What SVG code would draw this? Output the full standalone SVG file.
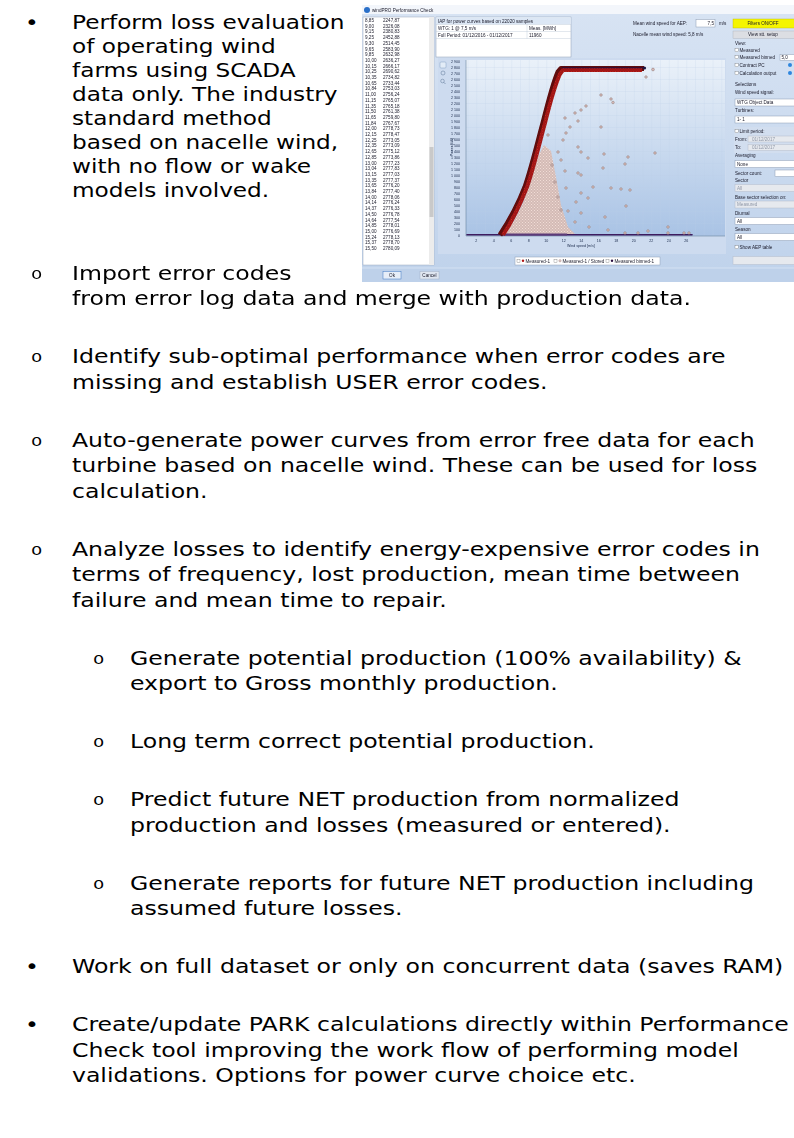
<svg xmlns="http://www.w3.org/2000/svg" width="794" height="1138" viewBox="0 0 794 1138">
  <style>
    .t { font-family: "DejaVu Sans", Verdana, sans-serif; font-size: 20px; fill: #000; }
    .o { font-family: "Liberation Mono", "Courier New", monospace; font-size: 16px; fill: #000; }
    .s { font-family: "Liberation Sans", Arial, sans-serif; font-size: 4.6px; fill: #1a1a2a; }
    .sg { font-family: "Liberation Sans", Arial, sans-serif; font-size: 4.6px; fill: #9098a8; }
    .ax { font-family: "Liberation Sans", Arial, sans-serif; font-size: 3.6px; fill: #203050; }
    .box { fill: #ffffff; stroke: #8c9cb4; stroke-width: 0.5; }
    .dis { fill: #e6e9ee; stroke: #b4bccb; stroke-width: 0.5; }
    .sc { fill: #d9bcb9; stroke: #85706d; stroke-width: 0.45; }
    .cb { fill: #ffffff; stroke: #555555; stroke-width: 0.3; }
  </style>
  <defs>
    <linearGradient id="winBg" x1="0" y1="0" x2="0" y2="1">
      <stop offset="0" stop-color="#d7e3f3"/>
      <stop offset="1" stop-color="#bfd2eb"/>
    </linearGradient>
    <linearGradient id="plotBg" x1="0" y1="0" x2="0" y2="1">
      <stop offset="0" stop-color="#eaf1f9"/>
      <stop offset="1" stop-color="#a9c3e5"/>
    </linearGradient>
    <pattern id="grid" x="96.8" y="2" width="8.75" height="12" patternUnits="userSpaceOnUse">
      <path d="M0 0V12M0 0H8.75" fill="none" stroke="#b8cae3" stroke-width="0.4"/>
    </pattern>
    <pattern id="pinkDots" width="3" height="3" patternUnits="userSpaceOnUse">
      <rect width="3" height="3" fill="#e6cdc8"/>
      <circle cx="1.5" cy="1.5" r="1.1" fill="#f2dcd6" stroke="#a08580" stroke-width="0.35"/>
    </pattern>
    <pattern id="redDots" width="2.6" height="2.6" patternUnits="userSpaceOnUse">
      <rect width="2.6" height="2.6" fill="#b01818"/>
      <circle cx="1.3" cy="1.3" r="0.9" fill="#d42a22" stroke="#5a0606" stroke-width="0.35"/>
    </pattern>
    <filter id="soft" x="-2%" y="-2%" width="104%" height="104%">
      <feGaussianBlur stdDeviation="0.35"/>
    </filter>
  </defs>

  <rect width="794" height="1138" fill="#ffffff"/>

  <!-- body text is set 20px and widened to the page's text measure -->
  <!-- first bullet, wrapped beside the screenshot -->
  <g id="bullet-loss-evaluation" transform="scale(1.16 1)">
    <text class="t" x="21.6" y="29">•</text>
    <text class="t" x="62.1" y="29">Perform loss evaluation</text>
    <text class="t" x="62.1" y="53">of operating wind</text>
    <text class="t" x="62.1" y="77">farms using SCADA</text>
    <text class="t" x="62.1" y="101">data only. The industry</text>
    <text class="t" x="62.1" y="125">standard method</text>
    <text class="t" x="62.1" y="149">based on nacelle wind,</text>
    <text class="t" x="62.1" y="173">with no flow or wake</text>
    <text class="t" x="62.1" y="197">models involved.</text>
  </g>

  <!-- performance check dialog screenshot -->
  <g id="screenshot" transform="translate(362 5)" filter="url(#soft)">
    <!-- title bar and body -->
    <rect x="0" y="0" width="434" height="9" fill="#f3f6fb"/>
    <circle cx="5" cy="5" r="3" fill="#2a6fc9"/>
    <text class="s" x="10" y="6.8" fill="#333">windPRO Performance Check</text>
    <rect x="0" y="9" width="434" height="268" fill="url(#winBg)"/>

    <!-- result list -->
    <g id="result-list">
      <rect x="1" y="12" width="71" height="248" fill="#ffffff" stroke="#9aa8bc" stroke-width="0.5"/>
      <rect x="67" y="12" width="5" height="248" fill="#ececec"/>
      <rect x="67.5" y="142" width="4" height="70" fill="#c9c9c9"/>
      <g class="s">
        <text x="3" y="17">8,85</text><text x="21" y="17">2247,87</text>
        <text x="3" y="22.7">9,00</text><text x="21" y="22.7">2326,08</text>
        <text x="3" y="28.4">9,15</text><text x="21" y="28.4">2380,83</text>
        <text x="3" y="34.1">9,25</text><text x="21" y="34.1">2452,88</text>
        <text x="3" y="39.8">9,30</text><text x="21" y="39.8">2514,45</text>
        <text x="3" y="45.5">9,65</text><text x="21" y="45.5">2583,90</text>
        <text x="3" y="51.2">9,85</text><text x="21" y="51.2">2632,98</text>
        <text x="3" y="56.9">10,00</text><text x="21" y="56.9">2636,27</text>
        <text x="3" y="62.6">10,15</text><text x="21" y="62.6">2666,17</text>
        <text x="3" y="68.3">10,25</text><text x="21" y="68.3">2690,62</text>
        <text x="3" y="74">10,35</text><text x="21" y="74">2734,82</text>
        <text x="3" y="79.7">10,65</text><text x="21" y="79.7">2733,44</text>
        <text x="3" y="85.4">10,84</text><text x="21" y="85.4">2753,03</text>
        <text x="3" y="91.1">11,00</text><text x="21" y="91.1">2756,24</text>
        <text x="3" y="96.8">11,15</text><text x="21" y="96.8">2765,07</text>
        <text x="3" y="102.5">11,35</text><text x="21" y="102.5">2765,18</text>
        <text x="3" y="108.2">11,50</text><text x="21" y="108.2">2761,38</text>
        <text x="3" y="113.9">11,65</text><text x="21" y="113.9">2759,80</text>
        <text x="3" y="119.6">11,84</text><text x="21" y="119.6">2767,67</text>
        <text x="3" y="125.3">12,00</text><text x="21" y="125.3">2778,73</text>
        <text x="3" y="131">12,15</text><text x="21" y="131">2778,47</text>
        <text x="3" y="136.7">12,25</text><text x="21" y="136.7">2773,05</text>
        <text x="3" y="142.4">12,35</text><text x="21" y="142.4">2773,09</text>
        <text x="3" y="148.1">12,65</text><text x="21" y="148.1">2775,12</text>
        <text x="3" y="153.8">12,85</text><text x="21" y="153.8">2773,86</text>
        <text x="3" y="159.5">13,00</text><text x="21" y="159.5">2777,23</text>
        <text x="3" y="165.2">13,04</text><text x="21" y="165.2">2777,83</text>
        <text x="3" y="170.9">13,15</text><text x="21" y="170.9">2777,03</text>
        <text x="3" y="176.6">13,35</text><text x="21" y="176.6">2777,37</text>
        <text x="3" y="182.3">13,65</text><text x="21" y="182.3">2776,20</text>
        <text x="3" y="188">13,84</text><text x="21" y="188">2777,40</text>
        <text x="3" y="193.7">14,00</text><text x="21" y="193.7">2778,06</text>
        <text x="3" y="199.4">14,14</text><text x="21" y="199.4">2776,24</text>
        <text x="3" y="205.1">14,37</text><text x="21" y="205.1">2776,33</text>
        <text x="3" y="210.8">14,50</text><text x="21" y="210.8">2776,78</text>
        <text x="3" y="216.5">14,64</text><text x="21" y="216.5">2777,54</text>
        <text x="3" y="222.2">14,85</text><text x="21" y="222.2">2778,01</text>
        <text x="3" y="227.9">15,00</text><text x="21" y="227.9">2776,69</text>
        <text x="3" y="233.6">15,24</text><text x="21" y="233.6">2778,13</text>
        <text x="3" y="239.3">15,37</text><text x="21" y="239.3">2778,70</text>
        <text x="3" y="245">15,50</text><text x="21" y="245">2780,09</text>
      </g>
    </g>

    <!-- AEP summary table -->
    <g id="aep-table">
      <rect class="box" x="74" y="12" width="135" height="40"/>
      <rect x="74.3" y="12.3" width="134.4" height="7" fill="#dce7f5"/>
      <text class="s" x="76" y="17.6">IAP for power curves based on 22020 samples</text>
      <path d="M74 19.5H209M74 26.5H209M74 33.5H209M165 19.5V33.5" stroke="#b8c4d4" stroke-width="0.4"/>
      <text class="s" x="76" y="24.6">WTG: 1 @ 7,5 m/s</text>
      <text class="s" x="167" y="24.6">Meas. [MWh]</text>
      <text class="s" x="76" y="31.6">Full Period: 01/12/2016 - 01/12/2017</text>
      <text class="s" x="167" y="31.6">11960</text>
    </g>

    <!-- wind speed settings -->
    <g id="wind-settings">
      <text class="s" x="271" y="20">Mean wind speed for AEP:</text>
      <rect class="box" x="334" y="14.5" width="19" height="7.5"/>
      <text class="s" x="352" y="20" text-anchor="end">7,5</text>
      <text class="s" x="357" y="20">m/s</text>
      <text class="s" x="271" y="31">Nacelle mean wind speed: 5,8 m/s</text>
    </g>

    <!-- right control panel -->
    <g id="control-panel">
      <rect x="371" y="14" width="63" height="9" fill="#f5f500" stroke="#b8b800" stroke-width="0.4"/>
      <text class="s" x="401" y="20.2" text-anchor="middle">Filters ON/OFF</text>
      <rect x="371" y="26" width="63" height="7.5" fill="#dcdee3" stroke="#a9afba" stroke-width="0.4"/>
      <text class="s" x="401" y="31.4" text-anchor="middle">View stt. setup</text>
      <text class="s" x="373" y="40">View:</text>
      <rect class="cb" x="373" y="43.5" width="3.2" height="3.2"/>
      <text class="s" x="377.5" y="46.6">Measured</text>
      <rect class="cb" x="373" y="50.5" width="3.2" height="3.2"/>
      <text class="s" x="377.5" y="53.6">Measured binned</text>
      <rect class="box" x="418" y="49.5" width="16" height="6"/>
      <text class="s" x="419.5" y="54">5,0</text>
      <rect class="cb" x="373" y="58.5" width="3.2" height="3.2"/>
      <text class="s" x="377.5" y="61.6">Contract PC</text>
      <circle cx="428" cy="60" r="2" fill="#2e86de"/>
      <rect class="cb" x="373" y="66.5" width="3.2" height="3.2"/>
      <text class="s" x="377.5" y="69.6">Calculation output</text>
      <circle cx="428" cy="68" r="2" fill="#2e86de"/>
      <text class="s" x="373" y="81">Selections</text>
      <text class="s" x="373" y="89">Wind speed signal:</text>
      <rect class="box" x="373" y="94" width="61" height="7"/>
      <text class="s" x="375" y="99">WTG Object Data</text>
      <text class="s" x="373" y="107">Turbines:</text>
      <rect class="box" x="373" y="111" width="61" height="7"/>
      <text class="s" x="375" y="116">1- 1</text>
      <rect x="372" y="122" width="62" height="26" fill="#d2deef"/>
      <rect class="cb" x="373" y="124.5" width="3.2" height="3.2"/>
      <text class="s" x="377.5" y="127.6">Limit period:</text>
      <text class="s" x="373" y="135.5">From:</text>
      <rect class="dis" x="386" y="131" width="48" height="6"/>
      <text class="sg" x="390" y="135.5">01/12/2017</text>
      <text class="s" x="373" y="144">To:</text>
      <rect class="dis" x="386" y="139.5" width="48" height="6"/>
      <text class="sg" x="390" y="144">01/12/2017</text>
      <text class="s" x="373" y="152">Averaging</text>
      <rect class="box" x="373" y="155.5" width="61" height="7"/>
      <text class="s" x="375" y="160.5">None</text>
      <text class="s" x="373" y="169.5">Sector count:</text>
      <rect class="box" x="413" y="165" width="21" height="6.5"/>
      <text class="s" x="373" y="176.5">Sector</text>
      <rect class="dis" x="373" y="179.5" width="61" height="7"/>
      <text class="sg" x="375" y="184.5">All</text>
      <text class="s" x="373" y="193.5">Base sector selection on:</text>
      <rect class="dis" x="373" y="196" width="61" height="7"/>
      <text class="sg" x="375" y="201">Measured</text>
      <text class="s" x="373" y="209.5">Diurnal</text>
      <rect class="box" x="373" y="212.5" width="61" height="7"/>
      <text class="s" x="375" y="217.5">All</text>
      <text class="s" x="373" y="226">Season</text>
      <rect class="box" x="373" y="228.5" width="61" height="7"/>
      <text class="s" x="375" y="233.5">All</text>
      <rect class="cb" x="373" y="240.5" width="3.2" height="3.2"/>
      <text class="s" x="377.5" y="243.6">Show AEP table</text>
      <rect class="dis" x="371" y="251.5" width="63" height="8"/>
    </g>

    <!-- power curve chart -->
    <g id="chart">
      <rect x="76" y="53" width="288" height="196" fill="#cddbef"/>
      <rect x="104" y="55" width="259" height="176" fill="url(#plotBg)"/>
      <rect x="104" y="55" width="259" height="176" fill="url(#grid)"/>
      <line x1="104" y1="55" x2="104" y2="231" stroke="#56708f" stroke-width="0.5"/>
      <line x1="104" y1="231" x2="363" y2="231" stroke="#56708f" stroke-width="0.5"/>
      <!-- tool icons -->
      <rect x="78" y="57" width="6" height="6" rx="1" fill="#e2ecf7" stroke="#6f8fb5" stroke-width="0.4"/>
      <circle cx="81" cy="68" r="2" fill="none" stroke="#5d7696" stroke-width="0.5"/>
      <circle cx="80.5" cy="76" r="1.8" fill="none" stroke="#5d7696" stroke-width="0.5"/>
      <line x1="81.8" y1="77.3" x2="83.5" y2="79" stroke="#5d7696" stroke-width="0.6"/>
      <!-- y axis -->
      <g class="ax" text-anchor="end">
        <text x="98" y="57.5">2 900</text><text x="98" y="63.5">2 800</text><text x="98" y="69.5">2 700</text>
        <text x="98" y="75.5">2 600</text><text x="98" y="81.5">2 500</text><text x="98" y="87.5">2 400</text>
        <text x="98" y="93.5">2 300</text><text x="98" y="99.5">2 200</text><text x="98" y="105.5">2 100</text>
        <text x="98" y="111.5">2 000</text><text x="98" y="117.5">1 900</text><text x="98" y="123.5">1 800</text>
        <text x="98" y="129.5">1 700</text><text x="98" y="135.5">1 600</text><text x="98" y="141.5">1 500</text>
        <text x="98" y="147.5">1 400</text><text x="98" y="153.5">1 300</text><text x="98" y="159.5">1 200</text>
        <text x="98" y="165.5">1 100</text><text x="98" y="171.5">1 000</text><text x="98" y="177.5">900</text>
        <text x="98" y="183.5">800</text><text x="98" y="189.5">700</text><text x="98" y="195.5">600</text>
        <text x="98" y="201.5">500</text><text x="98" y="207.5">400</text><text x="98" y="213.5">300</text>
        <text x="98" y="219.5">200</text><text x="98" y="225.5">100</text><text x="98" y="231.5">0</text>
      </g>
      <text class="ax" transform="translate(91 142) rotate(-90)" text-anchor="middle">Power [kW]</text>
      <!-- x axis -->
      <g class="ax" text-anchor="middle">
        <text x="114.3" y="237">2</text><text x="131.8" y="237">4</text><text x="149.3" y="237">6</text>
        <text x="166.8" y="237">8</text><text x="184.3" y="237">10</text><text x="201.8" y="237">12</text>
        <text x="219.3" y="237">14</text><text x="236.8" y="237">16</text><text x="254.3" y="237">18</text>
        <text x="271.8" y="237">20</text><text x="289.3" y="237">22</text><text x="306.8" y="237">24</text>
        <text x="324.3" y="237">26</text>
      </g>
      <text class="ax" x="219" y="242" text-anchor="middle">Wind speed [m/s]</text>

      <!-- cloud of sub-optimal samples below the curve -->
      <path d="M142 230L152 216L161 198L169 176L176 152L182 140L189 146L194 172L199 200L206 222L214 230Z" fill="url(#pinkDots)"/>
      <!-- zero-power samples -->
      <line x1="105" y1="229.8" x2="330" y2="229.8" stroke="#3e1d5e" stroke-width="1.6" stroke-linecap="round"/>
      <line x1="140" y1="229.5" x2="205" y2="229.5" stroke="#5c3a78" stroke-width="2.2"/>
      <!-- measured power curve band -->
      <path d="M138 230C148 215 156 200 163 182C169 165 175 140 181 118C186 98 191 78 196 67L199 63.5H282" fill="none" stroke="#5e0707" stroke-width="5" stroke-linejoin="round"/>
      <path d="M141 230C151 215 158 200 165 182C171 165 177 140 183 118C188 98 193 80 198 69L201 65H280" fill="none" stroke="url(#redDots)" stroke-width="4" stroke-linejoin="round"/>
      <line x1="200" y1="62.8" x2="282" y2="62.8" stroke="#2a1040" stroke-width="1"/>
      <circle cx="282.5" cy="63" r="1.6" fill="#1e1440"/>
      <!-- scattered samples -->
      <g class="sc">
        <circle cx="291" cy="64.5" r="1.4"/><circle cx="284" cy="72" r="1.3"/><circle cx="239" cy="90" r="1.3"/>
        <circle cx="249" cy="94" r="1.3"/><circle cx="251" cy="97.5" r="1.3"/><circle cx="224" cy="101" r="1.3"/>
        <circle cx="219" cy="105" r="1.3"/><circle cx="213" cy="108" r="1.3"/><circle cx="203" cy="113" r="1.3"/>
        <circle cx="216" cy="116" r="1.3"/><circle cx="208" cy="122" r="1.3"/><circle cx="239" cy="122" r="1.3"/>
        <circle cx="204" cy="128" r="1.3"/><circle cx="201" cy="135" r="1.3"/><circle cx="216" cy="142" r="1.3"/>
        <circle cx="219" cy="147" r="1.3"/><circle cx="196" cy="147" r="1.3"/><circle cx="242" cy="149" r="1.3"/>
        <circle cx="293" cy="148" r="1.3"/><circle cx="199" cy="155" r="1.3"/><circle cx="226" cy="153" r="1.3"/>
        <circle cx="263" cy="159" r="1.3"/><circle cx="266" cy="152" r="1.3"/><circle cx="241" cy="163" r="1.3"/>
        <circle cx="216" cy="168" r="1.3"/><circle cx="203" cy="166" r="1.3"/><circle cx="219" cy="170" r="1.3"/>
        <circle cx="249" cy="183" r="1.3"/><circle cx="259" cy="184" r="1.3"/><circle cx="268" cy="185" r="1.3"/>
        <circle cx="204" cy="183" r="1.3"/><circle cx="231" cy="182" r="1.3"/><circle cx="219" cy="188" r="1.3"/>
        <circle cx="196" cy="192" r="1.3"/><circle cx="226" cy="193" r="1.3"/><circle cx="214" cy="197" r="1.3"/>
        <circle cx="264" cy="201" r="1.3"/><circle cx="199" cy="205" r="1.3"/><circle cx="206" cy="206" r="1.3"/>
        <circle cx="219" cy="208" r="1.3"/><circle cx="243" cy="212" r="1.3"/><circle cx="213" cy="217" r="1.3"/>
        <circle cx="306" cy="222" r="1.3"/><circle cx="286" cy="226" r="1.3"/><circle cx="246" cy="225" r="1.3"/>
        <circle cx="263" cy="228" r="1.3"/><circle cx="276" cy="228" r="1.3"/><circle cx="322" cy="228" r="1.3"/>
        <circle cx="327" cy="228" r="1.3"/><circle cx="306" cy="228" r="1.3"/><circle cx="227" cy="222" r="1.3"/>
        <circle cx="190" cy="160" r="1.3"/><circle cx="193" cy="177" r="1.3"/><circle cx="186" cy="130" r="1.3"/>
      </g>

      <!-- legend -->
      <rect class="box" x="153" y="252" width="145" height="8"/>
      <rect class="cb" x="155" y="254.3" width="3" height="3"/>
      <circle cx="161" cy="255.8" r="1.2" fill="#b01818"/>
      <text class="s" x="163.5" y="257.6">Measured-1</text>
      <rect class="cb" x="192" y="254.3" width="3" height="3"/>
      <circle cx="198" cy="255.8" r="1.2" fill="#e6cfcb" stroke="#7d6461" stroke-width="0.3"/>
      <text class="s" x="200.5" y="257.6">Measured-1 / Stored</text>
      <rect class="cb" x="244" y="254.3" width="3" height="3"/>
      <circle cx="250" cy="255.8" r="1.2" fill="#2a1040"/>
      <text class="s" x="252.5" y="257.6">Measured binned-1</text>
    </g>

    <!-- dialog buttons -->
    <g id="dialog-buttons">
      <rect x="0" y="263" width="434" height="14" fill="#bed1ea"/>
      <line x1="0" y1="263" x2="434" y2="263" stroke="#e3ecf8" stroke-width="0.6"/>
      <rect x="21" y="266.5" width="18" height="7.5" fill="#e7eef8" stroke="#3f78c4" stroke-width="0.5"/>
      <text class="s" x="30" y="271.8" text-anchor="middle">Ok</text>
      <rect x="58" y="266.5" width="19" height="7.5" fill="#dfe6f0" stroke="#9aa9bd" stroke-width="0.4"/>
      <text class="s" x="67.5" y="271.8" text-anchor="middle">Cancel</text>
    </g>
  </g>

  <!-- sub-items of the first bullet -->
  <g id="item-import" transform="scale(1.18 1)">
    <text class="o" x="26.3" y="279">o</text>
    <text class="t" x="61" y="280">Import error codes</text>
    <text class="t" x="61" y="305.5">from error log data and merge with production data.</text>
  </g>
  <g id="item-identify" transform="scale(1.18 1)">
    <text class="o" x="26.3" y="362.5">o</text>
    <text class="t" x="61" y="363.5">Identify sub-optimal performance when error codes are</text>
    <text class="t" x="61" y="389">missing and establish USER error codes.</text>
  </g>
  <g id="item-autogenerate" transform="scale(1.18 1)">
    <text class="o" x="26.3" y="446">o</text>
    <text class="t" x="61" y="447">Auto-generate power curves from error free data for each</text>
    <text class="t" x="61" y="472.5">turbine based on nacelle wind. These can be used for loss</text>
    <text class="t" x="61" y="498">calculation.</text>
  </g>
  <g id="item-analyze" transform="scale(1.18 1)">
    <text class="o" x="26.3" y="555">o</text>
    <text class="t" x="61" y="556">Analyze losses to identify energy-expensive error codes in</text>
    <text class="t" x="61" y="581.5">terms of frequency, lost production, mean time between</text>
    <text class="t" x="61" y="607">failure and mean time to repair.</text>
  </g>

  <!-- second level items -->
  <g id="item-potential" transform="scale(1.18 1)">
    <text class="o" x="78.8" y="664">o</text>
    <text class="t" x="110.2" y="665">Generate potential production (100% availability) &amp;</text>
    <text class="t" x="110.2" y="690.5">export to Gross monthly production.</text>
  </g>
  <g id="item-longterm" transform="scale(1.18 1)">
    <text class="o" x="78.8" y="747.5">o</text>
    <text class="t" x="110.2" y="748.5">Long term correct potential production.</text>
  </g>
  <g id="item-predict" transform="scale(1.18 1)">
    <text class="o" x="78.8" y="805.5">o</text>
    <text class="t" x="110.2" y="806.5">Predict future NET production from normalized</text>
    <text class="t" x="110.2" y="832">production and losses (measured or entered).</text>
  </g>
  <g id="item-reports" transform="scale(1.18 1)">
    <text class="o" x="78.8" y="889">o</text>
    <text class="t" x="110.2" y="890">Generate reports for future NET production including</text>
    <text class="t" x="110.2" y="915.5">assumed future losses.</text>
  </g>

  <!-- remaining top level bullets -->
  <g id="bullet-dataset" transform="scale(1.18 1)">
    <text class="t" x="21.2" y="973.5">•</text>
    <text class="t" x="61" y="973.5">Work on full dataset or only on concurrent data (saves RAM)</text>
  </g>
  <g id="bullet-park" transform="scale(1.18 1)">
    <text class="t" x="21.2" y="1031.5">•</text>
    <text class="t" x="61" y="1031.5">Create/update PARK calculations directly within Performance</text>
    <text class="t" x="61" y="1057">Check tool improving the work flow of performing model</text>
    <text class="t" x="61" y="1082.5">validations. Options for power curve choice etc.</text>
  </g>
</svg>
